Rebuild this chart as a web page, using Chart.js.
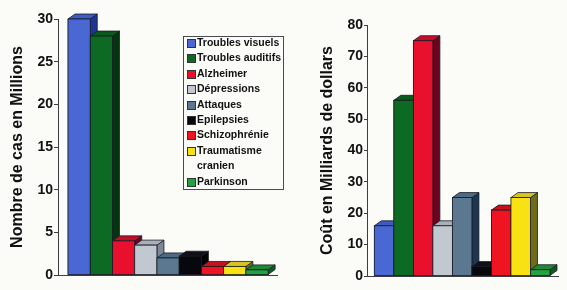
<!DOCTYPE html>
<html>
<head>
<meta charset="utf-8">
<script src="https://cdn.jsdelivr.net/npm/chart.js@4"></script>
<style>
  body { margin: 0; background: #fbfbf8; }
  #wrap { position: relative; width: 567px; height: 290px; overflow: hidden; }
  #left { position: absolute; left: 0; top: 0; }
  #right { position: absolute; left: 290px; top: 0; }
  #legend {
    position: absolute; left: 183px; top: 36px; width: 99px; height: 152px;
    border: 1px solid #4a4a55; font: bold 10.5px "Liberation Sans", Arial, sans-serif; color: #111;
  }
  #legend .row { position: relative; padding-left: 13px; line-height: 15.4px; white-space: nowrap; }
  #legend .sw { position: absolute; left: 3px; top: 4px; width: 7px; height: 7px; border: 1px solid #333; }
  #legend .inner { margin-top: -2px; }
</style>
</head>
<body>
<div id="wrap">
  <canvas id="left" width="290" height="290"></canvas>
  <canvas id="right" width="277" height="290"></canvas>
  <div id="legend"><div class="inner"></div></div>
</div>
<script>
const categories = ['Troubles visuels', 'Troubles auditifs', 'Alzheimer', 'Dépressions', 'Attaques',
                    'Epilepsies', 'Schizophrénie', 'Traumatisme cranien', 'Parkinson'];
const cases = [30, 28, 4, 3.5, 2, 2.2, 1, 1, 0.6];     // millions
const costs = [16, 56, 75, 16, 25, 3, 21, 25, 2];      // milliards de dollars

const frontColors = ['#4a68d4', '#0c6a24', '#e8102c', '#c2c8d0', '#5b7890', '#07070e', '#f01422', '#f8e214', '#22a240'];
const topColors   = ['#3d5bc4', '#0a5a1e', '#c80c28', '#a8b0bc', '#4d6a84', '#101018', '#c8101e', '#d8c420', '#1c8a36'];
const sideColors  = ['#1f3596', '#053510', '#6a0420', '#7a8898', '#1c3654', '#000004', '#700818', '#6c6c1c', '#0e5a20'];

// legend
const inner = document.querySelector('#legend .inner');
categories.forEach((c, i) => {
  const row = document.createElement('div');
  row.className = 'row';
  row.innerHTML = '<span class="sw" style="background:' + frontColors[i] + '"></span>' + c.replace('Traumatisme ', 'Traumatisme<br>');
  inner.appendChild(row);
});

// fake 3d: side + top faces, then front redrawn, left to right
const bar3d = {
  id: 'bar3d',
  afterDatasetsDraw(chart, args, opts) {
    const ctx = chart.ctx;
    const meta = chart.getDatasetMeta(0);
    const dx = opts.dx, dy = opts.dy;
    ctx.save();
    ctx.lineWidth = 0.8;
    ctx.strokeStyle = '#1a1a22';
    meta.data.forEach((bar, i) => {
      const p = bar.getProps(['x', 'y', 'base', 'width'], true);
      const l = p.x - p.width / 2, r = p.x + p.width / 2;
      const t = p.y, b = p.base;
      ctx.fillStyle = sideColors[i];
      ctx.beginPath();
      ctx.moveTo(r, b); ctx.lineTo(r + dx, b + dy); ctx.lineTo(r + dx, t + dy); ctx.lineTo(r, t);
      ctx.closePath(); ctx.fill(); ctx.stroke();
      ctx.fillStyle = topColors[i];
      ctx.beginPath();
      ctx.moveTo(l, t); ctx.lineTo(l + dx, t + dy); ctx.lineTo(r + dx, t + dy); ctx.lineTo(r, t);
      ctx.closePath(); ctx.fill(); ctx.stroke();
      ctx.fillStyle = frontColors[i];
      ctx.fillRect(l, t, p.width, b - t);
      ctx.strokeRect(l, t, p.width, b - t);
    });
    ctx.restore();
  }
};

function makeChart(el, values, opt) {
  return new Chart(el, {
    type: 'bar',
    data: {
      datasets: [{
        data: values.map((v, i) => ({ x: i, y: v })),
        backgroundColor: frontColors,
        barPercentage: 1,
        categoryPercentage: 1
      }]
    },
    options: {
      responsive: false,
      animation: false,
      events: [],
      layout: { padding: opt.padding },
      plugins: { legend: { display: false }, tooltip: { enabled: false }, bar3d: { dx: 7, dy: -5 } },
      scales: {
        x: {
          type: 'linear', min: opt.xmin, max: opt.xmax, offset: false,
          // one tick per bar so the bars get the full unit width
          afterBuildTicks: s => { s.ticks = values.map((v, i) => ({ value: i })); },
          ticks: { display: false },
          grid: { drawOnChartArea: false, drawTicks: false },
          border: { color: '#3c3c44', width: 1 }
        },
        y: {
          min: 0, max: opt.ymax,
          afterFit: s => { s.width = opt.axisW; },
          ticks: { stepSize: opt.step, padding: 1, color: '#111',
                   font: { family: '"Liberation Sans", Arial, sans-serif', size: 14, weight: 'bold' } },
          grid: { drawOnChartArea: false, tickLength: opt.tickLen, color: '#3c3c44' },
          border: { color: '#3c3c44', width: 1 },
          title: { display: true, text: opt.title, color: '#111', padding: { top: opt.titlePad, bottom: 0 },
                   font: { family: '"Liberation Sans", Arial, sans-serif', size: 16, weight: 'bold' } }
        }
      }
    },
    plugins: [bar3d]
  });
}

makeChart(document.getElementById('left'), cases, {
  padding: { left: 0, top: 19, right: 13, bottom: 15 },
  xmin: -0.95, xmax: 8.9, ymax: 30, step: 5, axisW: 58, tickLen: 4, titlePad: 8,
  title: 'Nombre de cas en Millions'
});
makeChart(document.getElementById('right'), costs, {
  padding: { left: 0, top: 25, right: 9, bottom: 14 },
  xmin: -0.875, xmax: 8.91, ymax: 80, step: 10, axisW: 77, tickLen: 3, titlePad: 28,
  title: 'Coût en Milliards de dollars'
});
</script>
</body>
</html>
